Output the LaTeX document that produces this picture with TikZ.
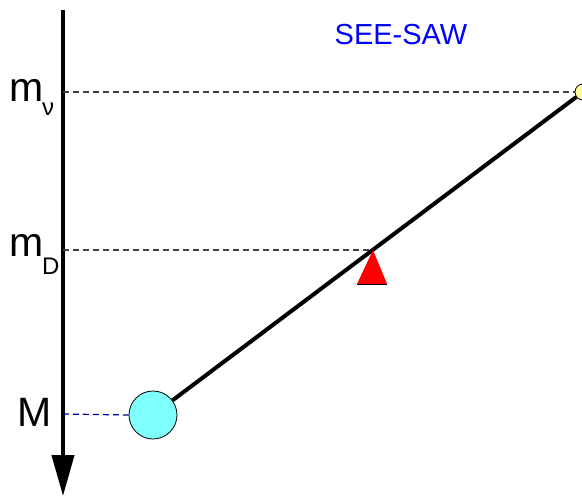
\documentclass[tikz,border=0pt]{standalone}
\usepackage{fontspec}
\setmainfont{Liberation Sans}
\usetikzlibrary{arrows.meta}
\definecolor{ballcyan}{HTML}{80FFFF}
\definecolor{ballyellow}{HTML}{FFFF99}
\definecolor{dashgray}{HTML}{404040}
\definecolor{dashblue}{HTML}{0000A0}
\begin{document}
\begin{tikzpicture}[x=1pt,y=-1pt,
  level/.style={dashgray,line width=1.2pt,dash pattern=on 6pt off 4pt},
  ball/.style={circle,draw=black,line width=0.8pt,inner sep=0pt},
  biglabel/.style={anchor=base west,inner sep=0pt,font=\fontsize{41}{41}\selectfont},
  sublabel/.style={anchor=base west,inner sep=0pt,font=\fontsize{24}{24}\selectfont}]
\useasboundingbox (0,0) rectangle (582,496);
% axis
\coordinate (top) at (63,10);
\coordinate (bot) at (63,496);
\draw[line width=4pt,-{Triangle[length=41pt,width=22pt]}] (top) -- (bot);
% balls
\node[ball,fill=ballcyan,minimum size=48pt] (big) at (153,415) {};
\node[ball,fill=ballyellow,minimum size=16pt] (small) at (583,92) {};
% pivot point
\coordinate (piv) at (373,250);
% dashed levels
\coordinate (anu) at (63,92);
\coordinate (aD) at (63,250);
\coordinate (aM) at (63,414);
\draw[level] (anu) -- (small.west);
\draw[level] (aD) -- (piv);
\draw[dashblue,line width=1.2pt,dash pattern=on 6pt off 4pt] (aM) -- (big.west);
% seesaw beam
\draw[line width=4pt] (big) -- (small);
% fulcrum
\fill[red] (piv) -- (387,284) -- (357,284) -- cycle;
\draw[line width=0.5pt] (357,284) -- (387,284);
% labels
\node[biglabel] (lnu) at (9,101) {m};
\node[sublabel] (snu) at (42,115) {ν};
\node[biglabel] (lD) at (9,256) {m};
\node[sublabel] (sD) at (42,274) {D};
\node[biglabel] (lM) at (17,426) {M};
\node[anchor=base,inner sep=0pt,text=blue,font=\fontsize{29}{29}\selectfont] (title) at (401,44) {SEE-SAW};
\end{tikzpicture}
\end{document}
